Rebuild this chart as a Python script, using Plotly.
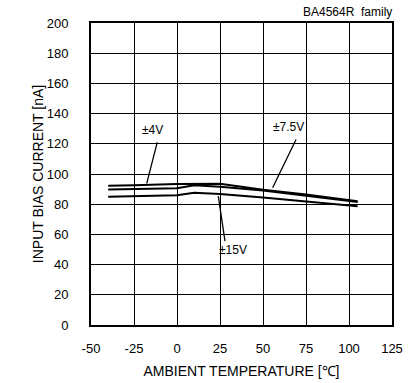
import plotly.graph_objects as go

temps = [-40, -25, 0, 10, 25, 50, 75, 105]
ib_4v = [92.3, 92.5, 93.4, 93.5, 93.5, 89.5, 86.5, 82.0]
ib_7v5 = [89.8, 90.0, 90.5, 92.5, 91.6, 89.0, 85.8, 81.5]
ib_15v = [85.0, 85.2, 86.0, 87.6, 86.8, 84.5, 82.0, 78.6]

x_ticks = [-50, -25, 0, 25, 50, 75, 100, 125]
y_ticks = [0, 20, 40, 60, 80, 100, 120, 140, 160, 180, 200]

font = "Liberation Sans, Arial, sans-serif"

fig = go.Figure()
for ys in (ib_4v, ib_7v5, ib_15v):
    fig.add_trace(go.Scatter(x=temps, y=ys, mode="lines",
                             line=dict(color="black", width=2),
                             showlegend=False, hoverinfo="skip"))

# labels with leader lines (data coordinates)
labels = [
    ("±4V", -14, 129, (-11.5, 120.9), (-17.6, 93.8)),
    ("±7.5V", 64.7, 131, (69.2, 122.8), (55.6, 90.9)),
    ("±15V", 32.7, 50, (24.0, 85.4), (27.9, 55.6)),
]
for txt, tx, ty, p0, p1 in labels:
    fig.add_annotation(x=tx, y=ty, text=txt, showarrow=False,
                       font=dict(size=12, color="black", family=font))
    fig.add_shape(type="line", x0=p0[0], y0=p0[1], x1=p1[0], y1=p1[1],
                  line=dict(color="black", width=1.3), xref="x", yref="y")

fig.add_annotation(x=1, y=1, xref="paper", yref="paper", xanchor="right",
                   yanchor="bottom", yshift=2, xshift=2, text="BA4564R  family",
                   showarrow=False, font=dict(size=12, color="black", family=font))

fig.update_layout(
    width=412, height=383,
    margin=dict(l=91, r=20, t=23, b=58),
    plot_bgcolor="white", paper_bgcolor="white",
    font=dict(family=font, size=13, color="black"),
    xaxis=dict(range=[-50, 125], tickvals=x_ticks, ticktext=[str(v) for v in x_ticks],
               showgrid=True, gridcolor="black", gridwidth=1,
               showline=True, linecolor="black", linewidth=2, mirror=True,
               ticks="", zeroline=False, automargin=False, ticklabelstandoff=10,
               title=dict(text="AMBIENT TEMPERATURE [℃]", font=dict(size=14), standoff=12)),
    yaxis=dict(range=[0, 200], tickvals=y_ticks,
               showgrid=True, gridcolor="black", gridwidth=1,
               showline=True, linecolor="black", linewidth=2, mirror=True,
               ticks="", zeroline=False, automargin=False, ticklabelstandoff=18,
               title=dict(text="INPUT BIAS CURRENT [nA]", font=dict(size=14), standoff=0)),
)

fig.write_html("out.html", config={"displayModeBar": False},
               post_script="document.body.style.margin='0';document.body.style.padding='0';")
